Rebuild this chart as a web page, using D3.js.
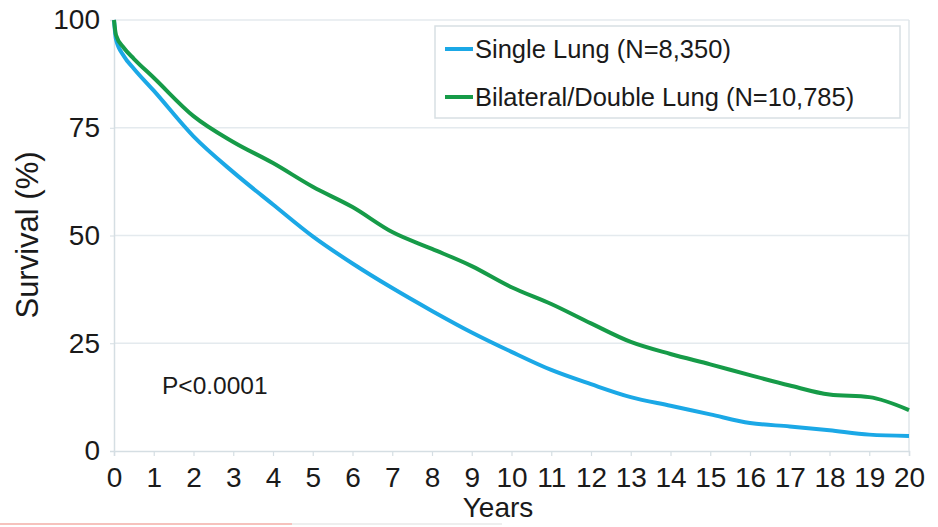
<!DOCTYPE html>
<html>
<head>
<meta charset="utf-8">
<script src="https://cdn.jsdelivr.net/npm/d3@7"></script>
<style>
  html, body { margin: 0; padding: 0; background: #fff; }
  svg { display: block; }
  text { font-family: "Liberation Sans", Arial, Helvetica, sans-serif; fill: #1a1a1a; }
</style>
</head>
<body>
<svg id="chart" width="938" height="527"></svg>
<script>
// ---- data ----
const years = [0, 0.05, 0.25, 0.5, 1, 2, 3, 4, 5, 6, 7, 8, 9, 10, 11, 12, 13, 14, 15, 16, 17, 18, 19, 20];
const singleLung = [100, 95.5, 91.6, 88.7, 83.6, 73, 64.7, 57.2, 49.8, 43.5, 37.8, 32.5, 27.5, 23, 18.8, 15.5, 12.5, 10.5, 8.5, 6.5, 5.7, 4.8, 3.8, 3.5];
const doubleLung = [100, 96.5, 93.5, 91, 86.6, 77.7, 71.7, 66.8, 61.3, 56.6, 50.8, 46.9, 42.9, 38, 34.1, 29.6, 25.3, 22.5, 20.1, 17.6, 15.2, 13.1, 12.5, 9.5];
const xTicks = d3.range(0, 21);
const yTicks = [0, 25, 50, 75, 100];
const seriesNames = ["Single Lung (N=8,350)", "Bilateral/Double Lung (N=10,785)"];
const seriesColors = ["#1ba8e6", "#169b48"];
const pLabel = "P<0.0001";

// ---- layout ----
const svg = d3.select("#chart");
const L = 114, R = 909, T = 20, B = 451;
const x = d3.scaleLinear().domain([0, 20]).range([L, R]);
const y = d3.scaleLinear().domain([0, 100]).range([B, T]);

// grid lines
svg.append("g").selectAll("line").data(yTicks.filter(d => d > 0)).join("line")
  .attr("x1", L).attr("x2", R)
  .attr("y1", d => y(d)).attr("y2", d => y(d))
  .attr("stroke", "#e4eaee").attr("stroke-width", 1.5);

// right border
svg.append("line").attr("x1", R).attr("x2", R).attr("y1", T).attr("y2", B)
  .attr("stroke", "#dfe6ea").attr("stroke-width", 1.5);

// y axis
const yAxis = svg.append("g").attr("transform", `translate(${L},0)`)
  .call(d3.axisLeft(y).tickValues(yTicks).tickSize(4).tickPadding(10));
yAxis.select(".domain").attr("stroke", "#d5dee3").attr("stroke-width", 1.5);
yAxis.selectAll(".tick line").attr("stroke", "#d5dee3");
yAxis.selectAll("text").style("font-size", "28px").attr("fill", "#1a1a1a");

// x axis
const xAxis = svg.append("g").attr("transform", `translate(0,${B})`)
  .call(d3.axisBottom(x).tickValues(xTicks).tickSize(5).tickPadding(11));
xAxis.select(".domain").attr("stroke", "#d5dee3").attr("stroke-width", 1.5);
xAxis.selectAll(".tick line").attr("stroke", "#d5dee3").attr("stroke-width", 1.2);
xAxis.selectAll("text").style("font-size", "28px").attr("fill", "#1a1a1a");

// lines
const line = d3.line().x(d => x(d[0])).y(d => y(d[1])).curve(d3.curveMonotoneX);
[singleLung, doubleLung].forEach((vals, i) => {
  svg.append("path")
    .datum(years.map((t, j) => [t, vals[j]]))
    .attr("fill", "none")
    .attr("stroke", seriesColors[i])
    .attr("stroke-width", 4)
    .attr("stroke-linejoin", "round")
    .attr("d", line);
});

// legend
const lg = svg.append("g");
lg.append("rect").attr("x", 435).attr("y", 26).attr("width", 465).attr("height", 92)
  .attr("fill", "#fff").attr("stroke", "#d8dfe3").attr("stroke-width", 1.5);
seriesNames.forEach((name, i) => {
  const yy = 49 + i * 48;
  lg.append("line").attr("x1", 445).attr("x2", 473).attr("y1", yy).attr("y2", yy)
    .attr("stroke", seriesColors[i]).attr("stroke-width", 4);
  lg.append("text").attr("x", 475).attr("y", yy).attr("dy", "0.36em")
    .style("font-size", "25.5px").text(name);
});

// p-value
svg.append("text").attr("x", 162).attr("y", 385).attr("dy", "0.36em")
  .style("font-size", "24.5px").text(pLabel);

// axis titles
svg.append("text").attr("x", 498).attr("y", 507).attr("dy", "0.36em")
  .attr("text-anchor", "middle").style("font-size", "28px").text("Years");
svg.append("text").attr("transform", "translate(27,235) rotate(-90)")
  .attr("dy", "0.36em").attr("text-anchor", "middle")
  .style("font-size", "31px").text("Survival (%)");

// bottom edge artifact
svg.append("rect").attr("x", 0).attr("y", 523).attr("width", 292).attr("height", 2).attr("fill", "#f6c2bd");
svg.append("rect").attr("x", 292).attr("y", 523).attr("width", 210).attr("height", 2).attr("fill", "#eeeeee");
</script>
</body>
</html>
